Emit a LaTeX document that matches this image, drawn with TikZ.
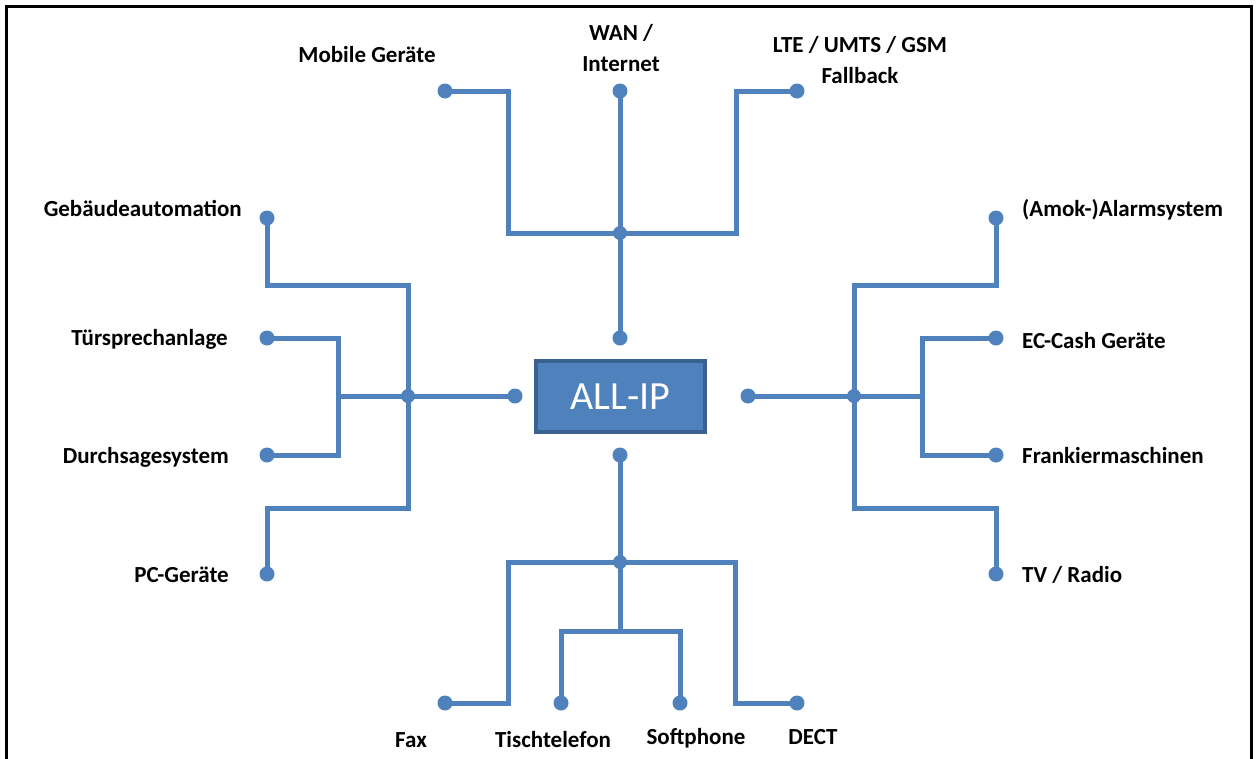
\documentclass[tikz,border=0pt]{standalone}
\usepackage{fontspec}
\setmainfont{Carlito}
\definecolor{blu}{HTML}{4F81BD}
\definecolor{bluedge}{HTML}{3A6290}
\begin{document}
\begin{tikzpicture}[x=1pt,y=-1pt,
  conn/.style={draw=blu, line width=5pt, line join=miter, line cap=rect},
  enddot/.style={circle, fill=blu, inner sep=0pt, minimum size=15pt},
  jdot/.style={circle, fill=blu, inner sep=0pt, minimum size=14pt},
  lbl/.style={font=\bfseries\fontsize{23}{31}\selectfont, inner sep=0pt, text=black},
  mainbox/.style={draw=bluedge, line width=4pt, fill=blu, text=white,
    minimum width=169pt, minimum height=71pt, inner sep=0pt,
    font=\fontsize{40}{48}\selectfont}]
\useasboundingbox (0,0) rectangle (1256,758);
% frame (open at the bottom)
\draw[line width=3pt, line cap=rect] (6.5,758) -- (6.5,6) -- (1251.5,6) -- (1251.5,758);

% centre
\node[mainbox] (allip) at (620.5,396.5) {ALL-IP};

% ---------- top group ----------
\node[enddot] (dmob) at (445,91) {};
\node[enddot] (dwan) at (620,91) {};
\node[enddot] (dlte) at (797,91) {};
\node[enddot] (dtop) at (620,338) {};
\node[jdot] (jtop) at (620,233) {};
\coordinate (tl) at (508,233);
\coordinate (tr) at (736,233);
\draw[conn] (dmob.center) -| (tl) -- (tr) |- (dlte.center);
\draw[conn] (dwan.center) -- (dtop.center);

% ---------- left group ----------
\node[enddot] (dleft) at (515,396) {};
\node[jdot] (jleft) at (408,396) {};
\node[enddot] (dgeb) at (267,218) {};
\node[enddot] (dtuer) at (267,338) {};
\node[enddot] (ddurch) at (267,455) {};
\node[enddot] (dpc) at (267,574) {};
\coordinate (lt) at (408,285);
\coordinate (lb) at (408,508);
\coordinate (lm) at (338,396);
\coordinate (lmt) at (338,338);
\coordinate (lmb) at (338,455);
\draw[conn] (dgeb.center) |- (lt) -- (lb) -| (dpc.center);
\draw[conn] (dleft.center) -- (lm);
\draw[conn] (dtuer.center) -- (lmt) -- (lmb) -- (ddurch.center);

% ---------- right group ----------
\node[enddot] (dright) at (748,396) {};
\node[jdot] (jright) at (854,396) {};
\node[enddot] (damok) at (996,218) {};
\node[enddot] (dec) at (996,338) {};
\node[enddot] (dfrank) at (996,455) {};
\node[enddot] (dtv) at (996,574) {};
\coordinate (rt) at (854,285);
\coordinate (rb) at (854,508);
\coordinate (rm) at (922,396);
\coordinate (rmt) at (922,338);
\coordinate (rmb) at (922,455);
\draw[conn] (damok.center) |- (rt) -- (rb) -| (dtv.center);
\draw[conn] (dright.center) -- (rm);
\draw[conn] (dec.center) -- (rmt) -- (rmb) -- (dfrank.center);

% ---------- bottom group ----------
\node[enddot] (dbot) at (620,455) {};
\node[jdot] (jbot) at (620,562) {};
\node[enddot] (dfax) at (445,703) {};
\node[enddot] (dtisch) at (561,703) {};
\node[enddot] (dsoft) at (680,703) {};
\node[enddot] (ddect) at (797,703) {};
\coordinate (bl) at (508,562);
\coordinate (br) at (735,562);
\coordinate (bm) at (620,631);
\draw[conn] (dfax.center) -| (bl) -- (br) |- (ddect.center);
\draw[conn] (dbot.center) -- (bm);
\draw[conn] (dtisch.center) |- (bm) -| (dsoft.center);

% ---------- labels ----------
\node[lbl, anchor=base] (tmob) at (367,62) {Mobile Geräte};
\node[lbl, anchor=center, align=center] (twan) at (621,48) {WAN /\\Internet};
\node[lbl, anchor=center, align=center] (tlte) at (860,60) {LTE / UMTS / GSM\\Fallback};

\node[lbl, anchor=base east] (tgeb) at (242,216) {Gebäudeautomation};
\node[lbl, anchor=base east] (ttuer) at (228,345) {Türsprechanlage};
\node[lbl, anchor=base east] (tdurch) at (229,463) {Durchsagesystem};
\node[lbl, anchor=base east] (tpc) at (229,582) {PC-Geräte};

\node[lbl, anchor=base west] (tamok) at (1022,216) {(Amok-)Alarmsystem};
\node[lbl, anchor=base west] (tec) at (1022,348) {EC-Cash Geräte};
\node[lbl, anchor=base west] (tfrank) at (1022,463) {Frankiermaschinen};
\node[lbl, anchor=base west] (ttv) at (1022,582) {TV / Radio};

\node[lbl, anchor=base] (tfax) at (411,747) {Fax};
\node[lbl, anchor=base] (ttisch) at (553,747) {Tischtelefon};
\node[lbl, anchor=base] (tsoft) at (696,744) {Softphone};
\node[lbl, anchor=base] (tdect) at (813,744) {DECT};
\end{tikzpicture}
\end{document}
